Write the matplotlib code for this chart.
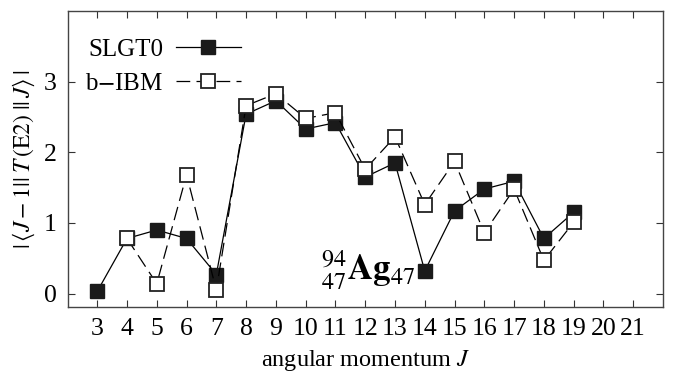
import numpy as np
import matplotlib
matplotlib.use("Agg")
import matplotlib.pyplot as plt

plt.rcParams['font.family'] = ['Liberation Serif', 'DejaVu Serif']
plt.rcParams['mathtext.fontset'] = 'stix'

# 데이터
J_slgt = [3, 4, 5, 6, 7, 8, 9, 10, 11, 12, 13, 14, 15, 16, 17, 18, 19]
slgt0 = [0.03, 0.78, 0.90, 0.78, 0.27, 2.54, 2.73, 2.33, 2.42, 1.65, 1.85,
         0.32, 1.17, 1.48, 1.59, 0.78, 1.15]
J_ibm = [4, 5, 6, 7, 8, 9, 10, 11, 12, 13, 14, 15, 16, 17, 18, 19]
bibm = [0.78, 0.14, 1.68, 0.05, 2.66, 2.83, 2.48, 2.56, 1.76, 2.22, 1.26,
        1.87, 0.86, 1.48, 0.47, 1.01]
xticks = list(range(3, 22))
yticks = [0, 1, 2, 3]

fig = plt.figure(figsize=(6.83, 3.76), dpi=100)
ax = fig.add_axes([0.0996, 0.1835, 0.8711, 0.7872])

ax.plot(J_slgt, slgt0, '-', color='black', lw=0.9, marker='s', ms=9.5,
        mfc='#1a1a1a', mec='#1a1a1a', label='SLGT0', zorder=3)
ax.plot(J_ibm, bibm, color='black', lw=0.9, ls=(0, (11, 5)), marker='s', ms=9.5,
        mfc='white', mec='#222222', mew=1.3, label='b$-$IBM', zorder=4)

ax.set_xlim(2.02, 22.0)
ax.set_ylim(-0.19, 4.0)
ax.set_xticks(xticks)
ax.set_yticks(yticks)
ax.tick_params(direction='in', top=True, right=True, labelsize=18.5, length=5,
               width=0.8, pad=8, colors='#333333', labelcolor='black')
for s in ax.spines.values():
    s.set_color('#444444')
    s.set_linewidth(1.0)

ax.set_xlabel('angular momentum $J$', fontsize=17.5, labelpad=6)
ax.set_ylabel(r'$|\,\langle J - 1||\; T\,(\mathrm{E2})\;||\, J\rangle\,|$',
              fontsize=17, labelpad=5)

ax.text(12.1, 0.33, r'${}^{94}_{47}\mathbf{Ag}_{47}$', fontsize=25,
        ha='center', va='center')

ax.legend(loc='upper left', bbox_to_anchor=(-0.018, 1.0), frameon=False,
          markerfirst=False, fontsize=18, handlelength=2.6, handletextpad=0.5,
          borderaxespad=0.5, borderpad=0.6, labelspacing=0.45)

fig.savefig('out.png', dpi=100)
